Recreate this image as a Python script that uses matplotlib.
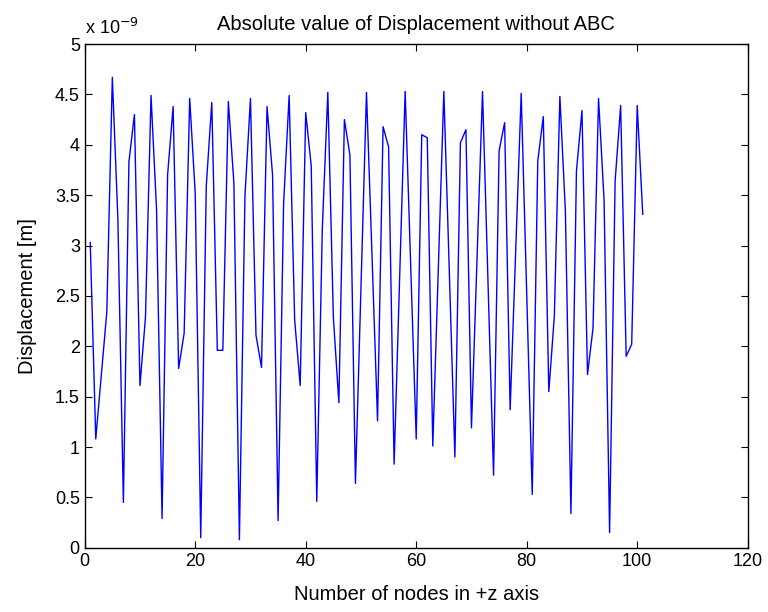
import numpy as np
import matplotlib.pyplot as plt
from matplotlib.ticker import FuncFormatter

plt.rcParams['font.family'] = ['Liberation Sans', 'DejaVu Sans']

# node index along +z and |displacement| in units of 1e-9 m
nodes = np.arange(1, 102)
disp_e9 = [
    3.03, 1.08, 1.71, 2.34, 4.67, 3.27, 0.45, 3.83, 4.30, 1.61,
    2.29, 4.49, 3.36, 0.29, 3.70, 4.38, 1.78, 2.13, 4.46, 3.52,
    0.10, 3.59, 4.42, 1.96, 1.96, 4.43, 3.62, 0.08, 3.49, 4.46,
    2.11, 1.79, 4.38, 3.70, 0.27, 3.42, 4.49, 2.26, 1.61, 4.32,
    3.79, 0.46, 3.16, 4.52, 2.29, 1.44, 4.25, 3.90, 0.64, 2.58,
    4.52, 2.90, 1.26, 4.18, 3.98, 0.83, 2.68, 4.53, 2.80, 1.08,
    4.10, 4.07, 1.01, 2.77, 4.53, 2.72, 0.90, 4.02, 4.15, 1.19,
    2.86, 4.53, 2.62, 0.72, 3.94, 4.22, 1.37, 2.94, 4.51, 2.52,
    0.53, 3.84, 4.28, 1.55, 2.30, 4.48, 3.34, 0.34, 3.74, 4.34,
    1.72, 2.18, 4.46, 3.45, 0.15, 3.64, 4.39, 1.90, 2.02, 4.39,
    3.31,
]
disp = np.array(disp_e9) * 1e-9

x_ticks = np.arange(0, 121, 20)
y_ticks = np.arange(0, 5.01, 0.5) * 1e-9

fig = plt.figure(figsize=(7.68, 6.12), dpi=100)
ax = fig.add_axes([0.1103, 0.105, 0.8633, 0.823])
ax.plot(nodes, disp, color=(0, 0, 1), lw=1.0)

ax.set_xlim(0, 120)
ax.set_ylim(0, 5e-9)
ax.set_xticks(x_ticks)
ax.set_yticks(y_ticks)
ax.yaxis.set_major_formatter(FuncFormatter(lambda v, p: '%g' % round(v * 1e9, 3)))
ax.tick_params(direction='in', top=True, right=True, labelsize=13, length=5, width=0.8)
for s in ax.spines.values():
    s.set_linewidth(1.0)

ax.set_xlabel('Number of nodes in +z axis', fontsize=14.5, labelpad=11)
ax.set_ylabel('Displacement [m]', fontsize=14.5, labelpad=13)
ax.set_title('Absolute value of Displacement without ABC', fontsize=14.5, pad=10)
ax.text(0.0, 1.012, r'x 10$^{-9}$', transform=ax.transAxes, fontsize=13,
        ha='left', va='bottom')

fig.savefig('out.png', dpi=100)
